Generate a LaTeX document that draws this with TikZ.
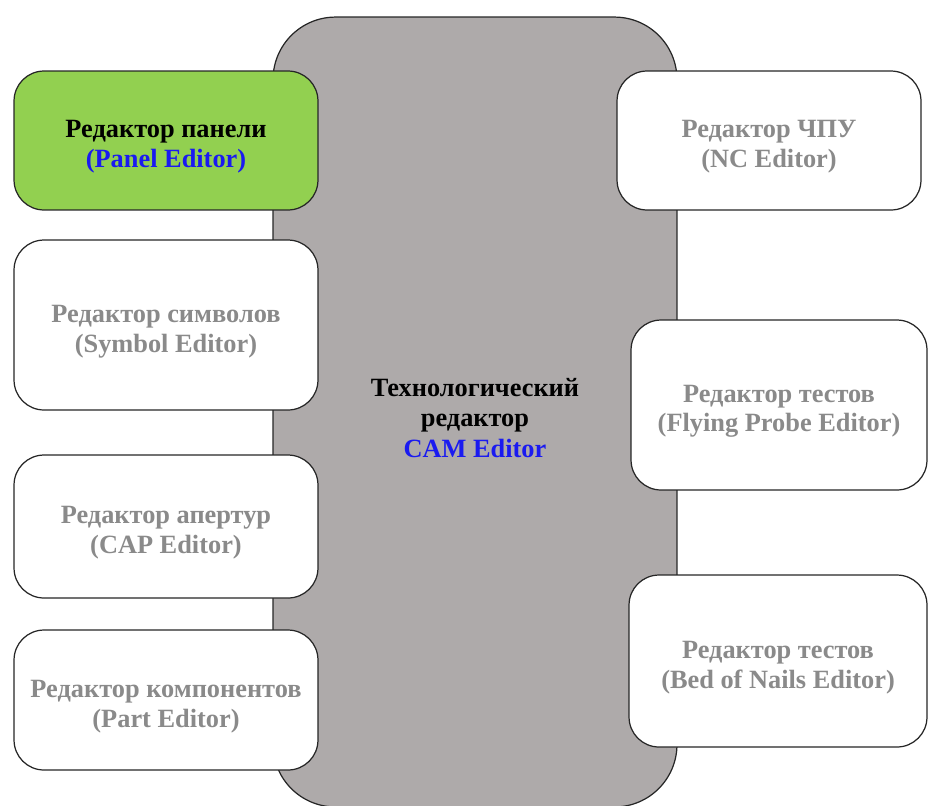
\documentclass[tikz,border=0pt]{standalone}
\usepackage{fontspec}
\setmainfont{Liberation Serif}
\usepackage{tikz}

\definecolor{camgray}{HTML}{AEAAAA}
\definecolor{panelgreen}{HTML}{92D050}
\definecolor{labelgray}{HTML}{8A8A8A}
\definecolor{labelblue}{HTML}{1A1AF0}

% strut that sets the text a little lower in its box
\newcommand{\edlift}{\rule{0pt}{17pt}}

\tikzset{
	editorbox/.style={draw=black!85, line width=0.7pt, fill=white, rounded corners=0.6cm,
		inner sep=0pt, align=center, font=\fontsize{15}{17}\selectfont\bfseries},
	camblock/.style={draw=black!85, line width=0.7pt, fill=camgray, rounded corners=1.25cm,
		inner sep=0pt, align=center, font=\fontsize{15}{17.5}\selectfont\bfseries},
}

\begin{document}
\begin{tikzpicture}[x=0.02cm,y=-0.02cm]
	% page frame - keeps the margins of the picture
	\useasboundingbox (0,0) rectangle (928,805);
	% central block - must be drawn before the editors!
	\node[camblock, minimum width=8.08cm, minimum height=15.8cm] (cam) at (475,412)
		{\edlift Технологический\\редактор\\\textcolor{labelblue}{CAM Editor}};
	% editors on the left
	\node[editorbox, fill=panelgreen, minimum width=6.08cm, minimum height=2.78cm] (panel) at (166,140.5)
		{\edlift Редактор панели\\\textcolor{labelblue}{(Panel Editor)}};
	\node[editorbox, text=labelgray, minimum width=6.08cm, minimum height=3.4cm] (symbol) at (166,325)
		{\edlift Редактор символов\\(Symbol Editor)};
	\node[editorbox, text=labelgray, minimum width=6.08cm, minimum height=2.86cm] (aperture) at (166,526.5)
		{\edlift Редактор апертур\\(CAP Editor)};
	\node[editorbox, text=labelgray, minimum width=6.08cm, minimum height=2.8cm] (part) at (166,700)
		{\edlift Редактор компонентов\\(Part Editor)};
	% editors on the right
	\node[editorbox, text=labelgray, minimum width=6.08cm, minimum height=2.78cm] (nc) at (769,140.5)
		{\edlift Редактор ЧПУ\\(NC Editor)};
	\node[editorbox, text=labelgray, minimum width=5.92cm, minimum height=3.4cm] (probe) at (779,405)
		{\edlift Редактор тестов\\(Flying Probe Editor)};
	\node[editorbox, text=labelgray, minimum width=5.96cm, minimum height=3.44cm] (nails) at (778,661)
		{\edlift Редактор тестов\\(Bed of Nails Editor)};
\end{tikzpicture}
\end{document}
